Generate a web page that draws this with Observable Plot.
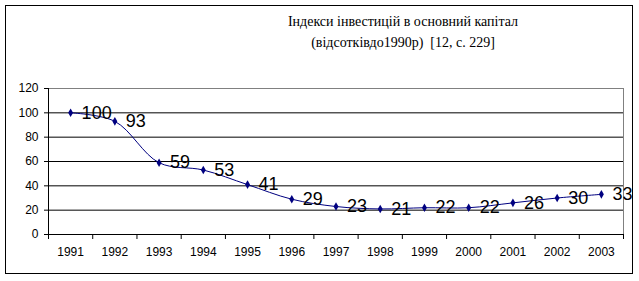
<!DOCTYPE html>
<html><head><meta charset="utf-8">
<script src="https://cdn.jsdelivr.net/npm/d3@7"></script>
<script src="https://cdn.jsdelivr.net/npm/@observablehq/plot@0.6"></script>
<style>
body{margin:0;background:#fff;}
#wrap{position:relative;width:639px;height:281px;overflow:hidden;}
#frame{position:absolute;left:5px;top:5px;width:626px;height:267px;border:1px solid #000;}
#title{position:absolute;left:250px;width:306px;top:11px;text-align:center;font-family:"Liberation Serif",serif;font-size:14px;line-height:21px;color:#000;}
#chart{position:absolute;left:0;top:0;}
</style></head>
<body>
<div id="wrap"><div id="frame"></div>
<div id="title">Індекси інвестицій в основний капітал<br>(відсотківдо1990р)&nbsp; [12, с. 229]</div>
<div id="chart"></div></div>
<script>
const years = [1991,1992,1993,1994,1995,1996,1997,1998,1999,2000,2001,2002,2003];
const values = [100,93,59,53,41,29,23,21,22,22,26,30,33];
const yTicks = [0,20,40,60,80,100,120];
const gridLines = [20,40,60,80,100];

const data = years.map((y,i)=>({year:y, value:values[i]}));
const bounds = d3.range(years.length+1).map(i => years[0]-0.5+i);

const plot = Plot.plot({
  width:639, height:281,
  marginLeft:48, marginRight:16, marginTop:88, marginBottom:47,
  style:{fontFamily:"Arial, 'Liberation Sans', sans-serif", fontSize:"12px", background:"transparent", color:"#000"},
  x:{type:"linear", domain:[years[0]-0.5, years[years.length-1]+0.5]},
  y:{domain:[0,120]},
  marks:[
    Plot.ruleY(gridLines, {stroke:"#000", strokeWidth:1}),
    Plot.ruleY([120], {stroke:"#808080", strokeWidth:1}),
    Plot.ruleX([bounds[bounds.length-1]], {stroke:"#808080", strokeWidth:1}),
    Plot.axisY(yTicks, {tickSize:4, tickPadding:6, label:null, fontSize:12, stroke:"#000"}),
    Plot.axisX(years, {tickSize:0, tickPadding:13, tickFormat:d=>String(d), label:null, fontSize:12}),
    Plot.axisX(bounds, {tickSize:5, tickFormat:()=>"", label:null, stroke:"#000"}),
    Plot.ruleX([bounds[0]], {stroke:"#000", strokeWidth:1}),
    Plot.ruleY([0], {stroke:"#000", strokeWidth:1}),
    Plot.line(data, {x:"year", y:"value", stroke:"#000080", strokeWidth:1, curve:"catmull-rom"}),
    Plot.dot(data, {x:"year", y:"value", symbol:"diamond", r:2.6, fill:"#000080", stroke:"none"}),
    Plot.text(data, {x:"year", y:"value", text:d=>String(d.value), dx:11, textAnchor:"start", fontSize:18, fill:"#000"})
  ]
});
document.getElementById("chart").appendChild(plot);
</script>
</body></html>
